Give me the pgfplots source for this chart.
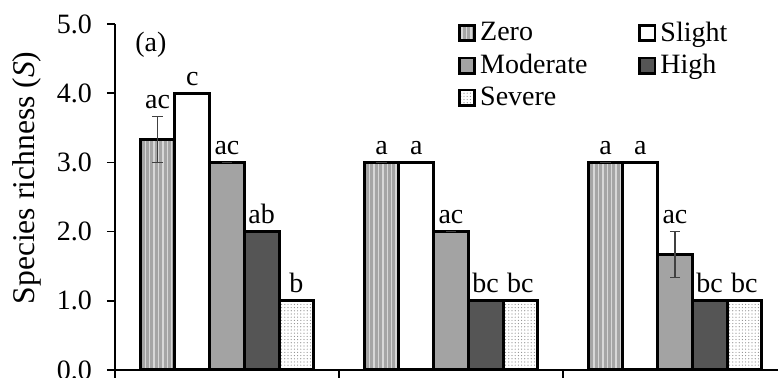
\documentclass[border=0pt]{standalone}
\usepackage{fontspec}
\setmainfont{Liberation Serif}
\usepackage{pgfplots}
\pgfplotsset{compat=1.18}
\usepackage{pgfplotstable}
\usetikzlibrary{patterns,patterns.meta}

\definecolor{zerofill}{RGB}{165,165,165}
\definecolor{zeroline}{RGB}{215,215,215}
\definecolor{modfill}{RGB}{163,163,163}
\definecolor{highfill}{RGB}{85,85,85}
\definecolor{dotcol}{RGB}{140,140,140}

% species richness per disturbance level; x = site group, err = s.e., lab = letters
\pgfplotstableread{
x y err lab
0 3.333 0.333 ac
1 3 0 a
2 3 0 a
}\zero
\pgfplotstableread{
x y err lab
0 4 0 c
1 3 0 a
2 3 0 a
}\slight
\pgfplotstableread{
x y err lab
0 3 0 ac
1 2 0 ac
2 1.667 0.333 ac
}\moderate
\pgfplotstableread{
x y err lab
0 2 0 ab
1 1 0 bc
2 1 0 bc
}\high
\pgfplotstableread{
x y err lab
0 1 0 b
1 1 0 bc
2 1 0 bc
}\severe

\pgfplotsset{
  sqlegend/.style={legend image code/.code={%
    \draw[##1, line width=1.4pt] (0pt,-3.8pt) rectangle (7.6pt,3.8pt);}},
  barstyle/.style={/tikz/draw=black, /tikz/line width=1.5pt, sqlegend},
  errstyle/.style={
    error bars/y dir=both, error bars/y explicit,
    error bars/error bar style={line width=0.6pt, black!75},
    error bars/error mark options={rotate=90, line width=0.6pt, black!75, mark size=2.6pt}},
  % letters above each bar (or above its error bar)
  letters/.style={forget plot, draw=none, fill=none,
    nodes near coords, point meta=explicit symbolic,
    every node near coord/.append style={anchor=south, inner ysep=3.2pt,
      font=\fontsize{14}{16}\selectfont, black}},
}

\begin{document}
\begin{tikzpicture}[font=\fontsize{14}{16}\selectfont]
\begin{axis}[
  scale only axis, width=331.5pt, height=173pt,
  at={(0,0)}, anchor=south west,
  xmin=-0.5, xmax=2.46, ymin=0, ymax=5,
  axis x line=bottom, axis y line=left,
  axis line style={-, line width=0.8pt},
  tick align=outside, major tick length=4pt,
  tick style={black, line width=0.8pt},
  xtick={-0.5,0.5,1.5}, xticklabels={},
  ytick={0,1,2,3,4,5},
  yticklabel style={/pgf/number format/fixed, /pgf/number format/fixed zerofill,
    /pgf/number format/precision=1, /pgf/number format/assume math mode=true},
  every y tick label/.append style={anchor=east, xshift=-4pt},
  ylabel={Species richness (\textit{S})},
  ylabel style={at={(axis description cs:-0.133,0.555)}, anchor=center,
    font=\fontsize{15.8}{18}\selectfont},
  ybar=0pt, bar width=0.155,
  every axis plot/.append style={line width=1.5pt},
  clip=false,
  legend columns=2,
  legend cell align=left,
  legend style={at={(rel axis cs:0.508,1.03)}, anchor=north west,
    draw=none, fill=none, row sep=1pt,
    font=\fontsize{14}{16}\selectfont,
    /tikz/every even column/.append style={column sep=23.5pt}},
]
\addplot[barstyle, errstyle, bar shift=-0.31, fill=zerofill,
  postaction={pattern={Lines[angle=90,distance=2.2pt,line width=0.7pt]}, pattern color=zeroline}]
  table[x=x, y=y, y error=err] {\zero};
\addlegendentry{Zero}
\addplot[barstyle, bar shift=-0.155, fill=white]
  table[x=x, y=y] {\slight};
\addlegendentry{Slight}
\addplot[barstyle, errstyle, bar shift=0, fill=modfill]
  table[x=x, y=y, y error=err] {\moderate};
\addlegendentry{Moderate}
\addplot[barstyle, bar shift=0.155, fill=highfill]
  table[x=x, y=y] {\high};
\addlegendentry{High}
\addplot[barstyle, bar shift=0.31, fill=white,
  postaction={pattern={Dots[distance=1.6pt,radius=0.3pt]}, pattern color=dotcol}]
  table[x=x, y=y] {\severe};
\addlegendentry{Severe}

\addplot[letters, bar shift=-0.31]  table[x=x, y expr=\thisrow{y}+\thisrow{err}, meta=lab] {\zero};
\addplot[letters, bar shift=-0.155] table[x=x, y expr=\thisrow{y}+\thisrow{err}, meta=lab] {\slight};
\addplot[letters, bar shift=0]      table[x=x, y expr=\thisrow{y}+\thisrow{err}, meta=lab] {\moderate};
\addplot[letters, bar shift=0.155]  table[x=x, y expr=\thisrow{y}+\thisrow{err}, meta=lab] {\high};
\addplot[letters, bar shift=0.31]   table[x=x, y expr=\thisrow{y}+\thisrow{err}, meta=lab] {\severe};

\node[anchor=west] at (rel axis cs:0.02,0.94) {(a)};
\end{axis}
\pgfresetboundingbox
\path (-57.5pt,-4pt) rectangle (331.5pt,185pt);
\end{tikzpicture}
\end{document}
